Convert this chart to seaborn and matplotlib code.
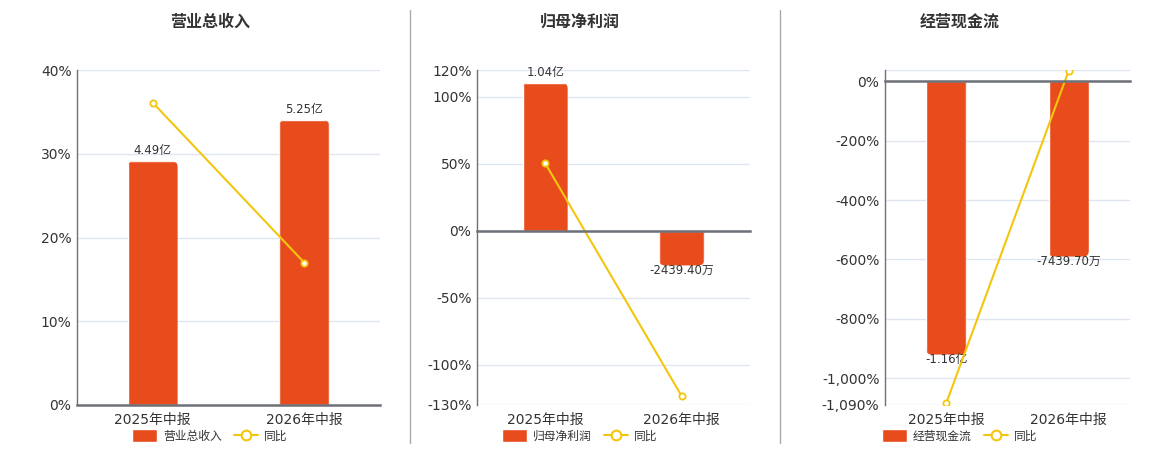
import seaborn as sns
import matplotlib.pyplot as plt
from matplotlib.patches import Patch, FancyBboxPatch
from matplotlib.lines import Line2D
from matplotlib.ticker import FixedLocator
from matplotlib.transforms import IdentityTransform

# gegevens uit de figuur
periodes = ["2025年中报", "2026年中报"]

titels = ["营业总收入", "归母净利润", "经营现金流"]

# staafwaarden in 亿
omzet = [4.49, 5.25]
winst = [1.04, -0.24394]
kasstroom = [-1.16, -0.74397]

omzet_labels = ["4.49亿", "5.25亿"]
winst_labels = ["1.04亿", "-2439.40万"]
kasstroom_labels = ["-1.16亿", "-7439.70万"]

# 同比 in %
omzet_yoy = [36.1, 17.0]
winst_yoy = [50.3, -123.4]
kasstroom_yoy = [-1084.0, 36.0]

omzet_ticks = [0, 10, 20, 30, 40]
omzet_ticklabels = ["0%", "10%", "20%", "30%", "40%"]
winst_ticks = [-130, -100, -50, 0, 50, 100, 120]
winst_ticklabels = ["-130%", "-100%", "-50%", "0%", "50%", "100%", "120%"]
kasstroom_ticks = [-1090, -1000, -800, -600, -400, -200, 0, 38]
kasstroom_ticklabels = ["-1,090%", "-1,000%", "-800%", "-600%", "-400%", "-200%", "0%", ""]

BALK_KLEUR = "#E84C1D"
LIJN_KLEUR = "#F3C60E"
RASTER = "#E0E6F1"
AS_KLEUR = "#6E7079"
TEKST = "#333333"

B, H = 1160, 450

sns.set_style("white")
plt.rcParams["font.family"] = ["DejaVu Sans", "Noto Sans CJK SC"]

fig = plt.figure(figsize=(B / 100, H / 100), dpi=100)


def paneel(links, rechts, titel, titel_x, waarden, labels, yoy, ticks, ticklabels, pct_lim, balk_lim):
    """Tekent een paneel: staven op een verborgen as, de 同比-lijn op de procentas."""
    ax = fig.add_axes([links / B, 1 - 405 / H, (rechts - links) / B, 335 / H])
    ax_balk = ax.twinx()
    ax_lijn = ax.twinx()

    sns.barplot(x=periodes, y=waarden, color=BALK_KLEUR, saturation=1, width=0.33, ax=ax_balk)
    sns.pointplot(x=periodes, y=yoy, color=LIJN_KLEUR, errorbar=None, linewidth=1.5,
                  markersize=4.5, markeredgewidth=1.3, ax=ax_lijn)
    for lijn in ax_lijn.lines:
        lijn.set_markerfacecolor("white")

    ax.set_ylim(pct_lim)
    ax_lijn.set_ylim(pct_lim)
    ax_balk.set_ylim(balk_lim)
    ax.set_xlim(-0.5, len(periodes) - 0.5)

    ax.set_yticks(ticks, ticklabels)
    ax.grid(axis="y", color=RASTER, lw=1)
    ax.grid(axis="x", visible=False)
    ax.set_axisbelow(True)
    ax.tick_params(axis="y", length=0, pad=4, labelsize=10, labelcolor=TEKST)
    ax.tick_params(axis="x", which="major", length=0, pad=6, labelsize=10, labelcolor=TEKST)
    ax.tick_params(axis="x", which="minor", length=0)
    for kant in ["top", "right", "bottom"]:
        ax.spines[kant].set_visible(False)
    ax.spines["left"].set_color(AS_KLEUR)
    ax.spines["left"].set_linewidth(1)

    for a in [ax_balk, ax_lijn]:
        a.set_yticks([])
        a.set_ylabel("")
        a.set_xlabel("")
        for kant in ["top", "right", "left", "bottom"]:
            a.spines[kant].set_visible(False)
    ax_balk.tick_params(axis="x", which="both", length=0, labelbottom=False)
    ax.set_xlabel("")

    # nullijn met streepjes tussen de categorieën
    ax_lijn.xaxis.set_minor_locator(FixedLocator([-0.5, 0.5, 1.5]))
    ax_lijn.spines["bottom"].set_visible(True)
    ax_lijn.spines["bottom"].set_position(("data", 0))
    ax_lijn.spines["bottom"].set_color(AS_KLEUR)
    ax_lijn.spines["bottom"].set_linewidth(1.8)
    ax_lijn.tick_params(axis="x", which="major", length=0, labelbottom=False)
    ax_lijn.tick_params(axis="x", which="minor", length=5, width=1, color=AS_KLEUR, direction="out")

    # waarden bij de staven + afgeronde uiteinden
    for staaf, label in zip(ax_balk.patches, labels):
        x = staaf.get_x() + staaf.get_width() / 2
        eind = staaf.get_y() + staaf.get_height()
        bb = staaf.get_window_extent()
        if eind >= 0:
            ax_balk.annotate(label, (x, eind), xytext=(0, 3), textcoords="offset points",
                             ha="center", va="bottom", fontsize=8.5, color=TEKST)
            kader = FancyBboxPatch((bb.x0, bb.y0 - 12), bb.width, bb.height + 12,
                                   boxstyle="round,pad=0,rounding_size=6", transform=IdentityTransform())
        else:
            ax_balk.annotate(label, (x, eind), xytext=(0, 1), textcoords="offset points",
                             ha="center", va="top", fontsize=8.5, color=TEKST)
            kader = FancyBboxPatch((bb.x0, bb.y0), bb.width, bb.height + 12,
                                   boxstyle="round,pad=0,rounding_size=6", transform=IdentityTransform())
        staaf.set_clip_path(kader)

    fig.text(titel_x / B, 1 - 22 / H, titel, ha="center", va="center", fontsize=11.5,
             fontweight="bold", color=TEKST)

    handles = [Patch(facecolor=BALK_KLEUR, label=titel),
               Line2D([], [], color=LIJN_KLEUR, marker="o", markerfacecolor="white", markersize=7,
                      markeredgewidth=1.5, lw=1.5, label="同比")]
    fig.legend(handles=handles, loc="center", bbox_to_anchor=(titel_x / B, 1 - 436 / H), ncol=2,
               frameon=False, fontsize=8.5, handlelength=2.1, handleheight=1.35, handletextpad=0.5,
               columnspacing=1.0, labelcolor=TEKST, borderaxespad=0, borderpad=0)


paneel(77, 380, titels[0], 210, omzet, omzet_labels, omzet_yoy, omzet_ticks, omzet_ticklabels,
       (0, 40), (0, 40 / 6.48))
paneel(477, 750, titels[1], 580, winst, winst_labels, winst_yoy, winst_ticks, winst_ticklabels,
       (-130, 120), (-130 / 106.2, 120 / 106.2))
paneel(885, 1130, titels[2], 960, kasstroom, kasstroom_labels, kasstroom_yoy, kasstroom_ticks,
       kasstroom_ticklabels, (-1090, 38), (-1090 / 793.5, 38 / 793.5))

# scheidingslijnen tussen de panelen
for xs in [410, 780]:
    fig.add_artist(Line2D([xs / B, xs / B], [1 - 10 / H, 1 - 443 / H], color="#AAAAAA", lw=1,
                          transform=fig.transFigure))

plt.savefig("out.png", dpi=100)
